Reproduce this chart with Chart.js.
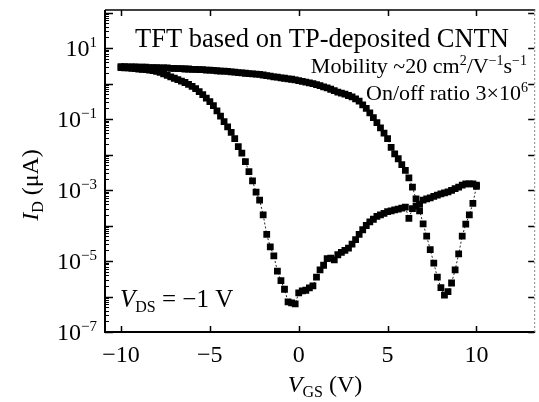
<!DOCTYPE html>
<html>
<head>
<meta charset="utf-8">
<script src="https://cdn.jsdelivr.net/npm/chart.js@4.4.0/dist/chart.umd.min.js"></script>
<style>
  html, body { margin: 0; padding: 0; background: #fff; }
</style>
</head>
<body>
<canvas id="tftChart" width="539" height="402"></canvas>
<script>
// Gate voltage steps (V)
const vgs = [
  -10, -9.8, -9.6, -9.4, -9.2, -9, -8.8, -8.6, -8.4, -8.2,
  -8, -7.8, -7.6, -7.4, -7.2, -7, -6.8, -6.6, -6.4, -6.2,
  -6, -5.8, -5.6, -5.4, -5.2, -5, -4.8, -4.6, -4.4, -4.2,
  -4, -3.8, -3.6, -3.4, -3.2, -3, -2.8, -2.6, -2.4, -2.2,
  -2, -1.8, -1.6, -1.4, -1.2, -1, -0.8, -0.6, -0.4, -0.2,
  0, 0.2, 0.4, 0.6, 0.8, 1, 1.2, 1.4, 1.6, 1.8,
  2, 2.2, 2.4, 2.6, 2.8, 3, 3.2, 3.4, 3.6, 3.8,
  4, 4.2, 4.4, 4.6, 4.8, 5, 5.2, 5.4, 5.6, 5.8,
  6, 6.2, 6.4, 6.6, 6.8, 7, 7.2, 7.4, 7.6, 7.8,
  8, 8.2, 8.4, 8.6, 8.8, 9, 9.2, 9.4, 9.6, 9.8,
  10
];

// Drain current (uA), sweep -10 V -> 10 V
const idForward = [
  2.82, 2.75, 2.75, 2.69, 2.63, 2.57, 2.51, 2.45, 2.38, 2.30,
  2.20, 2.05, 1.86, 1.70, 1.55, 1.41, 1.29, 1.17, 1.07, 0.95,
  0.83, 0.72, 0.59, 0.49, 0.39, 0.31, 0.24, 0.17, 0.12, 0.085,
  0.060, 0.042, 0.028, 0.0166, 0.011, 0.0063, 0.0033, 0.0018, 8.7e-4, 5.2e-4,
  2.0e-4, 5.6e-5, 2.5e-5, 1.4e-5, 5.2e-6, 2.8e-6, 1.6e-6, 7.1e-7, 6.6e-7, 6.2e-7,
  1.26e-6, 1.45e-6, 1.5e-6, 1.74e-6, 2.0e-6, 3.5e-6, 5.6e-6, 7.6e-6, 1.17e-5, 1.2e-5,
  1.07e-5, 1.5e-5, 1.74e-5, 2.0e-5, 2.3e-5, 3.0e-5, 4.0e-5, 5.6e-5, 7.6e-5, 1.0e-4,
  1.26e-4, 1.5e-4, 1.8e-4, 2.0e-4, 2.2e-4, 2.45e-4, 2.6e-4, 2.75e-4, 2.9e-4, 3.1e-4,
  3.3e-4, 1.6e-4, 3.0e-4, 3.5e-4, 4.0e-4, 5.2e-4, 5.6e-4, 6.0e-4, 6.6e-4, 7.2e-4,
  7.8e-4, 8.3e-4, 8.9e-4, 9.8e-4, 1.1e-3, 1.2e-3, 1.38e-3, 1.5e-3, 1.5e-3, 1.48e-3,
  1.38e-3
];

// Drain current (uA), sweep 10 V -> -10 V (listed by ascending gate voltage)
const idReverse = [
  3.0, 3.0, 2.95, 2.95, 2.95, 2.88, 2.88, 2.88, 2.82, 2.82,
  2.82, 2.75, 2.75, 2.75, 2.69, 2.69, 2.63, 2.63, 2.57, 2.57,
  2.51, 2.51, 2.45, 2.45, 2.4, 2.4, 2.34, 2.29, 2.24, 2.24,
  2.19, 2.14, 2.09, 2.04, 2.0, 1.95, 1.91, 1.88, 1.85, 1.80,
  1.74, 1.66, 1.62, 1.55, 1.51, 1.45, 1.41, 1.35, 1.32, 1.26,
  1.2, 1.15, 1.1, 1.05, 1.0, 0.93, 0.87, 0.81, 0.76, 0.69,
  0.63, 0.575, 0.54, 0.50, 0.46, 0.42, 0.37, 0.32, 0.25, 0.20,
  0.15, 0.11, 0.079, 0.056, 0.040, 0.028, 0.0158, 0.0105, 0.0076, 0.0052,
  0.0036, 0.0022, 0.0012, 5.6e-4, 2.6e-4, 1.12e-4, 5.0e-5, 2.1e-5, 8.7e-6, 3.5e-6,
  1.78e-6, 1.1e-6, 1.38e-6, 2.4e-6, 5.6e-6, 1.58e-5, 5.0e-5, 1.1e-4, 2.0e-4, 4.2e-4,
  1.26e-3
];

const xTicks = [-10, -5, 0, 5, 10];
const yLabelExponents = [1, -1, -3, -5, -7];

const SERIF = '"Liberation Serif", "Times New Roman", serif';
const MINUS = '\u2212';

function toPoints(currents) {
  return vgs.map((v, i) => ({ x: v, y: currents[i] }));
}

// draw a row of text pieces with their own fonts / baseline shifts
function drawRuns(ctx, runs, x, y, align) {
  let total = 0;
  runs.forEach(r => {
    ctx.font = r.font;
    r.w = ctx.measureText(r.t).width;
    total += r.w;
  });
  let cx = align === 'right' ? x - total : align === 'center' ? x - total / 2 : x;
  runs.forEach(r => {
    ctx.font = r.font;
    ctx.fillText(r.t, cx, y + (r.dy || 0));
    cx += r.w;
  });
}

const framePlugin = {
  id: 'frame',
  afterDraw(chart) {
    const { ctx, chartArea: a, scales: { x, y } } = chart;
    ctx.save();
    ctx.strokeStyle = '#000';
    ctx.fillStyle = '#000';

    // box
    ctx.lineWidth = 2;
    ctx.beginPath();
    ctx.moveTo(a.left, a.top);
    ctx.lineTo(a.left, a.bottom);
    ctx.lineTo(a.right + 1, a.bottom);
    ctx.stroke();
    ctx.lineWidth = 1.5;
    ctx.beginPath();
    ctx.moveTo(a.left, a.top);
    ctx.lineTo(a.right + 1, a.top);
    ctx.stroke();
    ctx.save();
    ctx.strokeStyle = '#888';
    ctx.lineWidth = 1;
    ctx.setLineDash([2, 2]);
    ctx.beginPath();
    ctx.moveTo(a.right + 0.5, a.top);
    ctx.lineTo(a.right + 0.5, a.bottom);
    ctx.stroke();
    ctx.restore();

    // x ticks, top and bottom, pointing inward
    ctx.lineWidth = 1.5;
    xTicks.forEach(v => {
      const px = Math.round(x.getPixelForValue(v)) + 0.5;
      ctx.beginPath();
      ctx.moveTo(px, a.bottom);
      ctx.lineTo(px, a.bottom - 6);
      ctx.moveTo(px, a.top);
      ctx.lineTo(px, a.top + 6);
      ctx.stroke();
    });

    // y ticks: decades long, 2..9 short
    for (let e = -7; e <= 2; e++) {
      for (let s = 1; s <= 9; s++) {
        const val = s * Math.pow(10, e);
        if (val < y.min || val > y.max) continue;
        const py = Math.round(y.getPixelForValue(val)) + 0.5;
        ctx.lineWidth = s === 1 ? 1.5 : 1;
        ctx.beginPath();
        ctx.moveTo(a.left, py);
        ctx.lineTo(a.left + (s === 1 ? 8 : 4), py);
        if (s === 1) {
          ctx.moveTo(a.right, py);
          ctx.lineTo(a.right - 6, py);
        }
        ctx.stroke();
      }
    }

    // y tick labels 10^n
    ctx.textBaseline = 'alphabetic';
    yLabelExponents.forEach(e => {
      const py = y.getPixelForValue(Math.pow(10, e));
      const expText = e < 0 ? MINUS + Math.abs(e) : String(e);
      drawRuns(ctx, [
        { t: '10', font: '24px ' + SERIF, dy: 8 },
        { t: expText, font: '15px ' + SERIF, dy: -1 }
      ], a.left - 8, py, 'right');
    });

    // x axis title
    drawRuns(ctx, [
      { t: 'V', font: 'italic 24px ' + SERIF },
      { t: 'GS', font: '16px ' + SERIF, dy: 5 },
      { t: ' (V)', font: '24px ' + SERIF }
    ], 325, 392, 'center');

    // y axis title
    ctx.save();
    ctx.translate(38, 185);
    ctx.rotate(-Math.PI / 2);
    drawRuns(ctx, [
      { t: 'I', font: 'italic 24px ' + SERIF },
      { t: 'D', font: '16px ' + SERIF, dy: 5 },
      { t: ' (\u03bcA)', font: '24px ' + SERIF }
    ], 0, 0, 'center');
    ctx.restore();

    // annotations
    drawRuns(ctx, [{ t: 'TFT based on TP-deposited CNTN', font: '26.5px ' + SERIF }], 135, 47, 'left');
    drawRuns(ctx, [
      { t: 'Mobility ~20 cm', font: '22px ' + SERIF },
      { t: '2', font: '14px ' + SERIF, dy: -8 },
      { t: '/V', font: '22px ' + SERIF },
      { t: MINUS + '1', font: '14px ' + SERIF, dy: -8 },
      { t: 's', font: '22px ' + SERIF },
      { t: MINUS + '1', font: '14px ' + SERIF, dy: -8 }
    ], 527, 73, 'right');
    drawRuns(ctx, [
      { t: 'On/off ratio 3\u00d710', font: '22px ' + SERIF },
      { t: '6', font: '14px ' + SERIF, dy: -8 }
    ], 528, 100, 'right');
    drawRuns(ctx, [
      { t: 'V', font: 'italic 25px ' + SERIF },
      { t: 'DS', font: '16px ' + SERIF, dy: 5 },
      { t: ' = ' + MINUS + '1 V', font: '25px ' + SERIF }
    ], 120, 307, 'left');

    ctx.restore();
  }
};

const sweepStyle = {
  showLine: true,
  borderColor: '#222',
  borderWidth: 1,
  borderDash: [2, 2],
  pointStyle: 'rect',
  pointRadius: 4.8,
  pointBackgroundColor: '#000',
  pointBorderWidth: 0
};

const ctx = document.getElementById('tftChart').getContext('2d');
new Chart(ctx, {
  type: 'scatter',
  data: {
    datasets: [
      Object.assign({ label: 'forward', data: toPoints(idForward) }, sweepStyle),
      Object.assign({ label: 'reverse', data: toPoints(idReverse) }, sweepStyle)
    ]
  },
  options: {
    responsive: false,
    animation: false,
    layout: { padding: { top: 10, right: 1, left: 0, bottom: 0 } },
    plugins: {
      legend: { display: false },
      tooltip: { enabled: false }
    },
    scales: {
      x: {
        type: 'linear',
        min: -10.9,
        max: 13.25,
        afterBuildTicks: scale => { scale.ticks = xTicks.map(v => ({ value: v })); },
        afterFit: scale => { scale.height = 70; },
        ticks: {
          font: { family: SERIF, size: 24 },
          color: '#000',
          padding: 1,
          maxRotation: 0,
          callback: v => String(v).replace('-', MINUS)
        },
        grid: { display: false },
        border: { display: false }
      },
      y: {
        type: 'logarithmic',
        min: 1e-7,
        max: 118,
        afterFit: scale => { scale.width = 105; },
        ticks: { display: false },
        grid: { display: false },
        border: { display: false }
      }
    }
  },
  plugins: [framePlugin]
});
</script>
</body>
</html>
